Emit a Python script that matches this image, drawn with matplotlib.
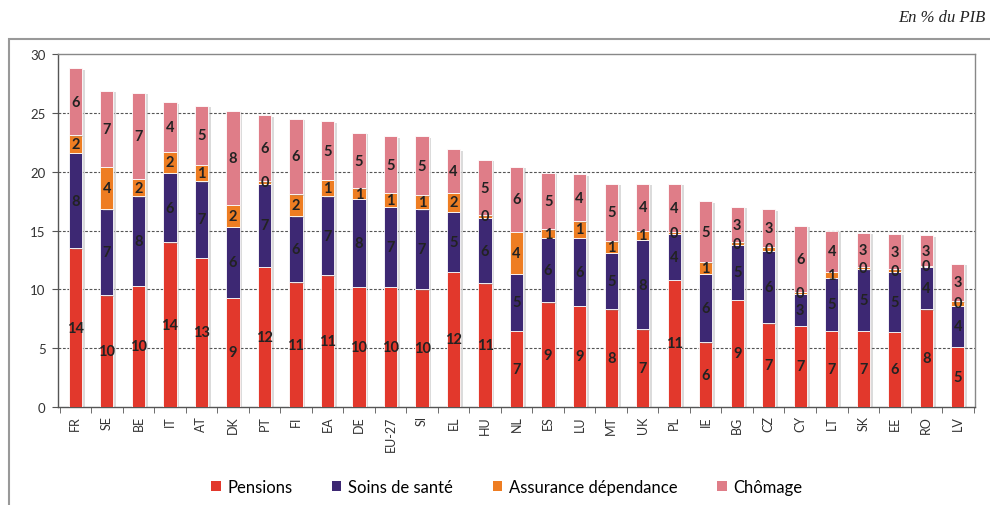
import matplotlib.pyplot as plt
import matplotlib.patheffects as pe
import numpy as np
from matplotlib.patches import Patch, Rectangle

plt.rcParams['font.family'] = ['Lato', 'DejaVu Sans']

countries = ['FR', 'SE', 'BE', 'IT', 'AT', 'DK', 'PT', 'FI', 'EA', 'DE', 'EU-27', 'SI', 'EL', 'HU',
             'NL', 'ES', 'LU', 'MT', 'UK', 'PL', 'IE', 'BG', 'CZ', 'CY', 'LT', 'SK', 'EE', 'RO', 'LV']

# dépenses liées à l'âge, en % du PIB
pensions = [13.5, 9.5, 10.3, 14.0, 12.7, 9.3, 11.9, 10.6, 11.2, 10.2, 10.2, 10.0, 11.5, 10.5,
            6.5, 8.9, 8.6, 8.3, 6.6, 10.8, 5.5, 9.1, 7.1, 6.9, 6.5, 6.5, 6.4, 8.3, 5.1]
sante = [8.1, 7.3, 7.6, 5.9, 6.5, 6.0, 7.1, 5.6, 6.7, 7.5, 6.8, 6.8, 5.1, 5.6,
         4.8, 5.5, 5.8, 4.8, 7.6, 3.9, 5.8, 4.7, 6.2, 2.7, 4.5, 5.2, 5.1, 3.6, 3.5]
dependance = [1.5, 3.6, 1.5, 1.8, 1.4, 1.9, 0.2, 1.9, 1.4, 0.9, 1.2, 1.2, 1.6, 0.2,
              3.6, 0.7, 1.4, 1.0, 0.8, 0.2, 1.0, 0.2, 0.3, 0.2, 0.5, 0.2, 0.2, 0.1, 0.4]
chomage = [5.7, 6.5, 7.3, 4.2, 5.0, 8.0, 5.6, 6.4, 5.0, 4.7, 4.8, 5.0, 3.7, 4.7,
           5.5, 4.8, 4.0, 4.9, 4.0, 4.1, 5.2, 3.0, 3.2, 5.6, 3.5, 2.9, 3.0, 2.6, 3.2]

series = [('Pensions', pensions, '#e2382c'),
          ('Soins de santé', sante, '#3d2873'),
          ('Assurance dépendance', dependance, '#ee7d22'),
          ('Chômage', chomage, '#df7d88')]

fig = plt.figure(figsize=(9.9, 5.06), dpi=100)
ax = fig.add_axes([0.0586, 0.1937, 0.9264, 0.6973])

x = np.arange(len(countries))
bottom = np.zeros(len(countries))
shadow = [pe.SimplePatchShadow(offset=(2, -1), shadow_rgbFace='#888888', alpha=0.3), pe.Normal()]
handles = []
for name, vals, color in series:
    vals = np.array(vals)
    bars = ax.bar(x, vals, width=0.42, bottom=bottom, color=color, edgecolor='white',
                  linewidth=0.6, zorder=3)
    for b in bars:
        b.set_path_effects(shadow)
    for xi, b0, v in zip(x, bottom, vals):
        ax.text(xi, b0 + v / 2, '%d' % np.floor(v + 0.5), ha='center', va='center',
                fontsize=10.5, fontweight='bold', color='#222222', zorder=4)
    bottom += vals
    handles.append(Patch(facecolor=color, label=name))

ax.set_xlim(-0.55, len(countries) - 0.45)
ax.set_ylim(0, 30)
ax.set_yticks(np.arange(0, 31, 5))
ax.set_xticks(x)
ax.set_xticklabels(countries, rotation=90, fontsize=9, color='#333333')
ax.set_xticks(np.arange(-0.5, len(countries) + 0.5, 1), minor=True)
ax.tick_params(axis='x', which='major', length=0, pad=6)
ax.tick_params(axis='x', which='minor', length=4, color='#555555', direction='out')
ax.tick_params(axis='y', length=4, color='#555555', labelsize=9.5, labelcolor='#333333', pad=5)

for y in range(5, 30, 5):
    ax.axhline(y, color='#555555', linestyle=(0, (2.5, 1.5)), linewidth=0.8, zorder=1)

for side in ['top', 'right']:
    ax.spines[side].set_color('#888888')
    ax.spines[side].set_linewidth(1.0)
for side in ['left', 'bottom']:
    ax.spines[side].set_color('#555555')
    ax.spines[side].set_linewidth(1.0)

# cadre extérieur du graphique
fig.patches.append(Rectangle((9 / 990, -0.1), 1.2, 1.1 - 40 / 506, transform=fig.transFigure,
                             fill=False, edgecolor='#999999', linewidth=1.5))

fig.text(0.995, 0.965, 'En % du PIB', ha='right', va='center', style='italic',
         fontsize=12, family=['Liberation Serif', 'DejaVu Serif'], color='#222222')

fig.legend(handles=handles, loc='center', bbox_to_anchor=(0.512, 0.035), ncol=4, frameon=False,
           fontsize=12, handlelength=0.55, handleheight=0.55, handletextpad=0.4,
           columnspacing=2.4)

fig.savefig('out.png', dpi=100)
